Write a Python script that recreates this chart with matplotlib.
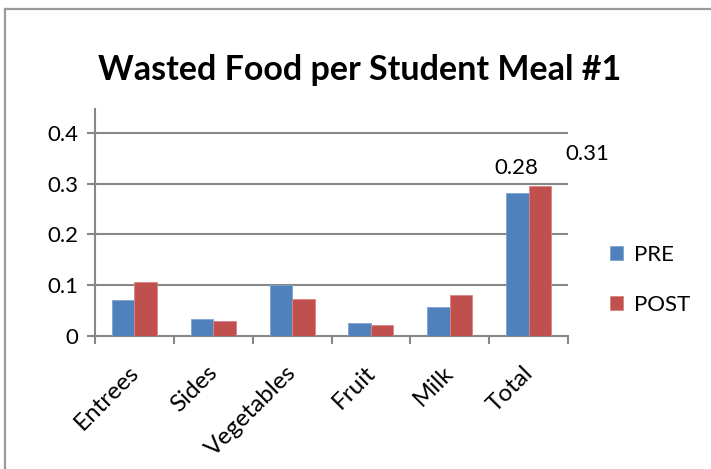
import numpy as np
import matplotlib
matplotlib.use('Agg')
from matplotlib import pyplot as plt
from matplotlib.lines import Line2D

plt.rcParams['font.family'] = ['Lato', 'DejaVu Sans']

categories = ['Entrees', 'Sides', 'Vegetables', 'Fruit', 'Milk', 'Total']
pre = [0.070, 0.033, 0.100, 0.025, 0.057, 0.282]
post = [0.106, 0.029, 0.072, 0.022, 0.081, 0.296]
total_labels = ['0.28', '0.31']
yticks = [0, 0.1, 0.2, 0.3, 0.4]
ytick_labels = ['0', '0.1', '0.2', '0.3', '0.4']

c_pre = '#4F81BD'
c_post = '#C0504D'
grid_c = '#878787'
fs = 16

fig = plt.figure(figsize=(7.11, 4.69), dpi=100)
W, H = 711, 469

# outer chart frame (only left and top edges visible)
fig.add_artist(Line2D([4.5/W, 4.5/W], [0, 1 - 9.5/H], color='#9a9a9a', lw=1.6))
fig.add_artist(Line2D([4.5/W, 1], [1 - 9.5/H, 1 - 9.5/H], color='#9a9a9a', lw=1.6))

ax = fig.add_axes([95/W, 1 - 336/H, (568 - 95)/W, (336 - 109)/H])
x = np.arange(len(categories))
bw = 1/3.5
ax.bar(x - bw/2, pre, bw, color=c_pre, label='PRE', zorder=3, edgecolor='#7fa3d1', linewidth=0.6)
ax.bar(x + bw/2, post, bw, color=c_post, label='POST', zorder=3, edgecolor='#d88583', linewidth=0.6)

ax.set_xlim(-0.5, len(categories) - 0.5)
ax.set_ylim(0, 0.447)
ax.set_yticks(yticks)
ax.set_yticklabels(ytick_labels, fontsize=fs)
for y in yticks[1:]:
    ax.axhline(y, color=grid_c, lw=1.5, zorder=1)

for s in ['top', 'right']:
    ax.spines[s].set_visible(False)
for s in ['left', 'bottom']:
    ax.spines[s].set_color(grid_c)
    ax.spines[s].set_linewidth(1.5)

ax.set_xticks(np.arange(len(categories) + 1) - 0.5)
ax.set_xticklabels([])
ax.tick_params(axis='x', length=6, width=1.5, color=grid_c, direction='out')
ax.tick_params(axis='y', length=6, width=1.5, color=grid_c, direction='out', pad=6)
for i, c in enumerate(categories):
    ax.annotate(c, xy=(i, 0), xycoords=('data', 'axes fraction'),
                xytext=(0.5, -24), textcoords='offset points',
                rotation=45, ha='right', va='center', rotation_mode='anchor',
                fontsize=17.5)

# data labels for totals
ax.annotate(total_labels[0], xy=(5 - bw/2, pre[5]), xytext=(-1, 18), textcoords='offset points',
            ha='center', va='center', fontsize=fs, zorder=4,
            bbox=dict(facecolor='white', edgecolor='none', pad=2))
ax.annotate(total_labels[1], xy=(5 + bw/2, post[5]), xytext=(34, 23), textcoords='offset points',
            ha='center', va='center', fontsize=fs, annotation_clip=False)

ax.legend(loc='center left', bbox_to_anchor=(590/W, 1 - 280/H), bbox_transform=fig.transFigure,
          frameon=False, fontsize=fs, handlelength=0.6, handleheight=0.6,
          labelspacing=1.35, handletextpad=0.5)

fig.text(360/W, 1 - 70/H, 'Wasted Food per Student Meal #1', ha='center', va='center',
         fontsize=24.5, fontweight='bold')

fig.savefig('out.png', dpi=100)
